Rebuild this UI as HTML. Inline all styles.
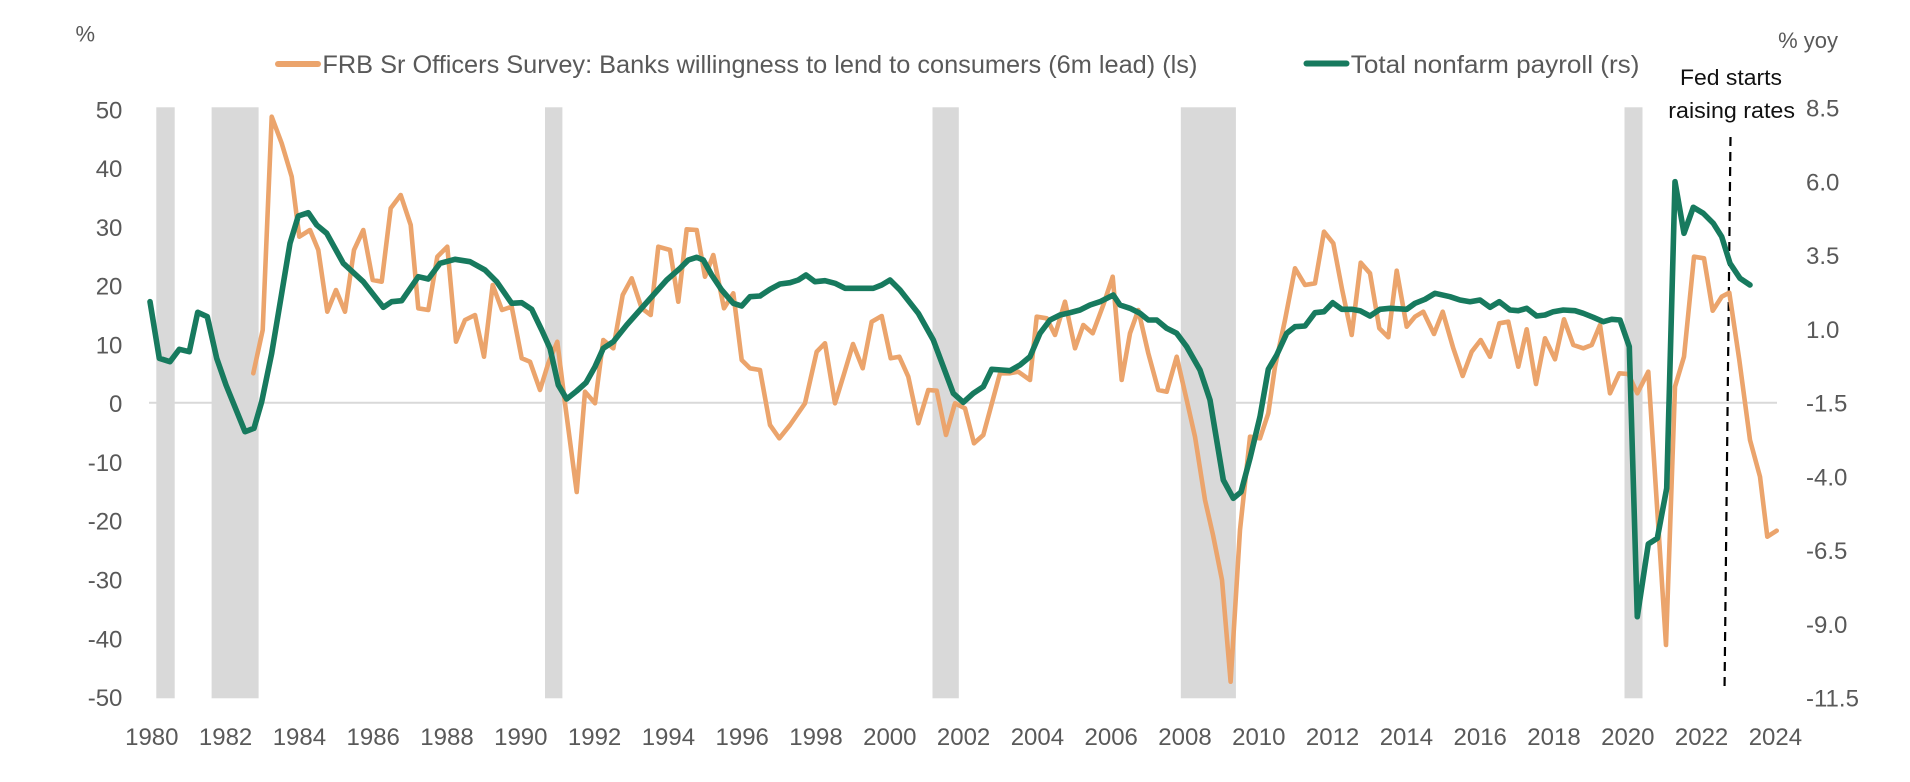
<!DOCTYPE html>
<html><head><meta charset="utf-8"><style>
html,body{margin:0;padding:0;background:#fff;}
svg{display:block;font-family:"Liberation Sans",Arial,sans-serif;}
</style></head><body>
<svg width="1910" height="782" viewBox="0 0 1910 782" xmlns="http://www.w3.org/2000/svg">
<rect width="1910" height="782" fill="#fff"/>
<!-- recession bars -->
<g fill="#d9d9d9">
<rect x="156.3" y="107.3" width="18.4" height="591"/>
<rect x="211.6" y="107.3" width="47" height="591"/>
<rect x="545" y="107.3" width="17.4" height="591"/>
<rect x="932.5" y="107.3" width="26.3" height="591"/>
<rect x="1180.8" y="107.3" width="55.1" height="591"/>
<rect x="1624.5" y="107.3" width="18" height="591"/>
</g>
<!-- zero line -->
<line x1="149" y1="402.8" x2="1777" y2="402.8" stroke="#d9d9d9" stroke-width="2"/>
<!-- dashed line -->
<line x1="1730.5" y1="137" x2="1724.5" y2="692" stroke="#000" stroke-width="2.2" stroke-dasharray="9,6"/>
<!-- orange series -->
<polyline fill="none" stroke="#eba46c" stroke-width="4.6" stroke-linejoin="round" stroke-linecap="round" points="
253.3,373.3 262.7,330 271.7,116.7 281.7,143.3 291.7,176.7 299.3,236.7 310,230 318.3,250 327.3,311.7 336,290 345,311.7 354,250 363.3,230 372.7,280 381.7,281.7 390.7,208.3 400.7,195 410.7,225 418.3,308.3 428.3,310 437.3,256.7 447.3,246.7 456,341.7 465,320 475,315 484,356.7 492.7,285 502,310 511.7,306.7 521.7,358.3 530,361.7 540,390 548.3,363.3 557.3,341.7 565,403.3 576.7,492 585,391.7 595,403.3 603.3,340 613.3,348.3 622.7,295 631.7,278.3 641.7,308.3 650.7,315 658.3,246.7 670,250 678.3,301.7 686.7,229.3 696.7,230 705,276.7 713.3,255 724,308.3 733.3,293.3 741.7,360 750,368.3 760,370 770,425 779.3,438.3 790,425 805,403.3 816.7,351.7 825,343.3 835,403.3 844,374 853,344 862.7,368.3 871.7,321.7 881.7,316 890.7,358.3 899.3,356.7 908.3,376.7 918.3,423.3 928.3,390 936.7,390.7 946,435 955,403.3 965,408.3 974,443.3 983.3,435 1000,373.3 1010,373.3 1018.3,371.7 1030,380 1036.7,316.7 1046.7,318.3 1055,335 1065,301.7 1075,348.3 1083.3,325 1092.7,333.3 1103.3,305 1112.7,276.7 1121.7,380 1130,333.3 1138.3,310 1148.3,353.3 1158.3,390 1166.7,391.7 1176.7,356.7 1186.7,400 1195,436.7 1205,500 1213,535 1222,580 1230.6,681.7 1240,530 1250,436.7 1260,438.3 1268.3,413.3 1275,366.7 1285,320 1295,268.3 1305,285 1315,283.3 1324,231.7 1333.3,243.3 1342,289 1351.7,335 1360.7,262.7 1370,273.3 1379.3,328.3 1388.3,337.3 1396.7,270.7 1406.7,326.7 1415,316.7 1423.3,311.7 1434,334 1442.7,311.7 1453.3,348.3 1462.7,376 1471.7,351.7 1480.7,340 1490,356.7 1499.3,323.3 1508.3,321.7 1518.3,366.7 1526.7,329.3 1536,384 1545,338.3 1555,359.3 1564,319.3 1573.3,345 1583.3,348.3 1591.7,345 1600,325 1610,393.3 1619.3,373.3 1628.3,374 1637.3,393.3 1648.3,371.7 1666,645 1675,386.7 1684,356.7 1694,256.7 1704,258.3 1712.7,310.7 1721.7,296.7 1729.3,292.7 1739.3,360 1750,440 1760,476.7 1767.3,536.7 1776.7,530.7"/>
<!-- green series -->
<polyline fill="none" stroke="#177a5e" stroke-width="5.6" stroke-linejoin="round" stroke-linecap="round" points="
150,301.7 159.3,358.3 170,361.7 179.3,349.3 189.3,351.7 197.7,312.3 207.3,316.7 216.7,358.3 226,385 245,431.7 254,428.3 261.7,401.7 271.7,353.3 281.7,293.3 290,243.3 298.3,216 308.3,212.7 316.7,225 326.7,233.3 343.3,263.3 363.3,281.7 383.3,307.3 391.7,301.7 401.7,300.7 418.3,276.7 428.3,279 440,263.3 455,259.3 470,261.7 485,270 496.7,281.7 511.7,303.3 521.7,302.7 531.7,309.3 541.7,330 550,348.3 558.3,385 566.7,399 576.7,391 586,382.7 595,366.7 603.3,348.3 613.3,341.7 626.7,325 640,310 653.3,295 666.7,280 680,268.3 688.3,260 696.7,257.3 703.3,260 711.7,275 721.7,290 733.3,303.3 741.7,306 750,296.7 760,296 770,289.3 780,284 790,282.7 798.3,280 806,275 815,281.7 825,280.7 835,283.3 845,288.3 863.3,288.3 873.3,288.3 881.7,285 890,280 900,290 918.3,313.3 933.3,340 953.3,393.3 963.3,402.3 973.3,393.3 983.3,386.7 991.7,369.3 1001.7,370 1010,370.7 1020,365 1030,356.7 1040,333.3 1050,320 1060,315 1070,312.7 1080,310 1090,305 1100,301.7 1113.3,295 1120,305 1130,308.3 1140,313.3 1148.3,320 1156.7,320 1166.7,328.3 1176.7,333.3 1186.7,346.7 1200,370 1210,400 1223.3,480 1233.3,498.3 1241,492 1250,458.3 1260,416.7 1268.3,369.3 1276.7,355 1286.7,333.3 1295,326.7 1305,326 1315,312.7 1324,311.7 1332.7,302.7 1341.7,309.3 1351.7,309.3 1360,310.7 1370,316 1380,309.3 1390,308.3 1406.7,309.3 1415,303.3 1425,299.3 1435,293.3 1450,296.7 1460,300 1470,301.7 1480,300 1490,307.3 1499.3,301.7 1510,310 1518.3,310.7 1526.7,308.3 1536.7,316 1545,315 1553.3,311.7 1563.3,310 1575,310.7 1583.3,313.3 1593.3,317.3 1603.3,321.7 1611.7,319.3 1620,320 1629.3,346.7 1637.3,616.7 1648.3,544 1657.3,538.3 1666.7,488.3 1675,181.7 1684,233.3 1693.3,207.3 1703.3,213.3 1713.3,223.3 1721.7,236.7 1730,263.3 1740,278.3 1750,285"/>
<!-- legend -->
<line x1="278" y1="64" x2="318" y2="64" stroke="#eba46c" stroke-width="6" stroke-linecap="round"/>
<text x="322.4" y="73" font-size="25" fill="#595959" textLength="875" lengthAdjust="spacingAndGlyphs">FRB Sr Officers Survey: Banks willingness to lend to consumers (6m lead) (ls)</text>
<line x1="1306.5" y1="63.5" x2="1346.5" y2="63.5" stroke="#177a5e" stroke-width="6" stroke-linecap="round"/>
<text x="1350.8" y="73" font-size="25" fill="#595959" textLength="288.6" lengthAdjust="spacingAndGlyphs">Total nonfarm payroll (rs)</text>
<!-- axis titles -->
<text x="75.5" y="41.7" font-size="22" fill="#595959">%</text>
<text x="1838" y="48" font-size="22" fill="#595959" text-anchor="end">% yoy</text>
<!-- annotation -->
<text x="1680" y="85" font-size="22" fill="#111" textLength="102" lengthAdjust="spacingAndGlyphs">Fed starts</text>
<text x="1668.3" y="118" font-size="22" fill="#111" textLength="126.7" lengthAdjust="spacingAndGlyphs">raising rates</text>
<!-- left y labels -->
<g font-size="24" fill="#595959" text-anchor="end">
<text x="122.4" y="118.3">50</text>
<text x="122.4" y="177.1">40</text>
<text x="122.4" y="235.9">30</text>
<text x="122.4" y="294.6">20</text>
<text x="122.4" y="353.4">10</text>
<text x="122.4" y="412.2">0</text>
<text x="122.4" y="470.9">-10</text>
<text x="122.4" y="529.7">-20</text>
<text x="122.4" y="588.5">-30</text>
<text x="122.4" y="647.3">-40</text>
<text x="122.4" y="706">-50</text>
</g>
<!-- right y labels -->
<g font-size="24" fill="#595959">
<text x="1806" y="116.6">8.5</text>
<text x="1806" y="190.3">6.0</text>
<text x="1806" y="264.1">3.5</text>
<text x="1806" y="337.8">1.0</text>
<text x="1806" y="411.6">-1.5</text>
<text x="1806" y="485.3">-4.0</text>
<text x="1806" y="559.1">-6.5</text>
<text x="1806" y="632.8">-9.0</text>
<text x="1806" y="706.6">-11.5</text>
</g>
<!-- x labels -->
<g font-size="24" fill="#595959" text-anchor="middle">
<text x="151.8" y="745">1980</text>
<text x="225.6" y="745">1982</text>
<text x="299.4" y="745">1984</text>
<text x="373.2" y="745">1986</text>
<text x="447" y="745">1988</text>
<text x="520.8" y="745">1990</text>
<text x="594.6" y="745">1992</text>
<text x="668.4" y="745">1994</text>
<text x="742.2" y="745">1996</text>
<text x="816" y="745">1998</text>
<text x="889.8" y="745">2000</text>
<text x="963.6" y="745">2002</text>
<text x="1037.4" y="745">2004</text>
<text x="1111.2" y="745">2006</text>
<text x="1185" y="745">2008</text>
<text x="1258.8" y="745">2010</text>
<text x="1332.6" y="745">2012</text>
<text x="1406.4" y="745">2014</text>
<text x="1480.2" y="745">2016</text>
<text x="1554" y="745">2018</text>
<text x="1627.8" y="745">2020</text>
<text x="1701.6" y="745">2022</text>
<text x="1775.4" y="745">2024</text>
</g>
</svg>
</body></html>
